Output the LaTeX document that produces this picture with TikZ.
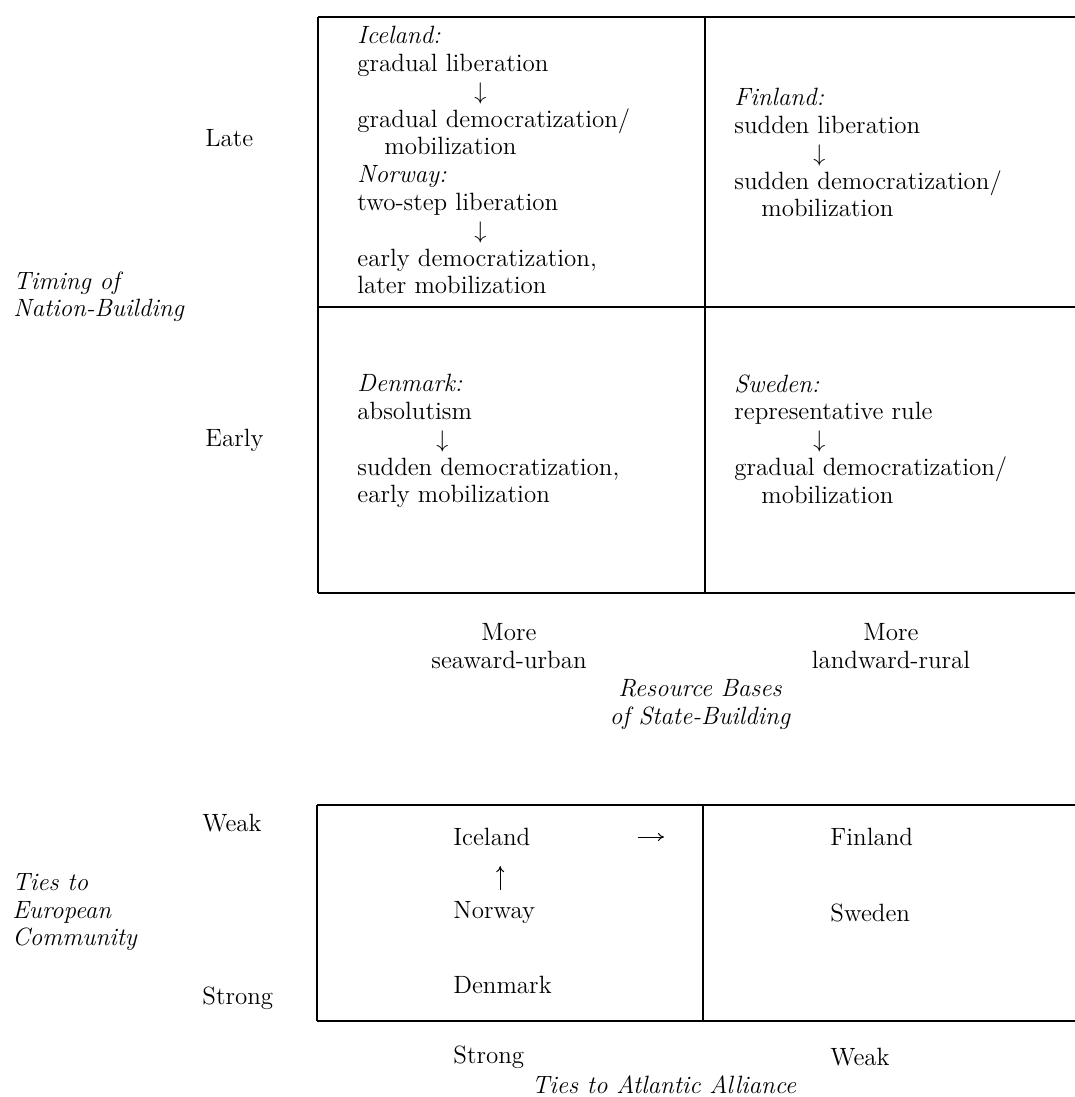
\documentclass[tikz,border=0pt]{standalone}
\usepackage{tikz}
\usetikzlibrary{arrows.meta,positioning}

\newcommand{\stepdown}[1]{\hspace*{#1}$\downarrow$}

\begin{document}
\begin{tikzpicture}[
    x=0.5pt,y=-0.5pt,
    txt/.style={inner sep=0pt,font=\fontsize{12.5}{13.9}\selectfont},
    cell/.style={txt,align=left,anchor=north west},
    axis/.style={inner sep=0pt,font=\fontsize{12.5}{13.9}\selectfont\itshape},
    grid/.style={line width=1pt},
    rim/.style={line width=1.4pt},
    tie/.style={line width=0.5pt,-{To[length=3pt,width=4pt]}}
  ]
  \useasboundingbox (0,0) rectangle (1075,1097);

  % upper table
  \draw[rim] (318,17) -- (1075,17);
  \draw[rim] (318,593) -- (1075,593);
  \draw[grid] (318,17) -- (318,593);
  \draw[grid] (705,17) -- (705,593);
  \draw[grid] (318,307) -- (1075,307);

  \node[cell] (iceCase) at (357,26) {\textit{Iceland:}\\gradual liberation\\
    \stepdown{58.5pt}\\gradual democratization/\\\hspace*{13.5pt}mobilization\\
    \textit{Norway:}\\two-step liberation\\\stepdown{58.5pt}\\
    early democratization,\\later mobilization};
  \node[cell] (finCase) at (734,88) {\textit{Finland:}\\sudden liberation\\
    \stepdown{39.5pt}\\sudden democratization/\\\hspace*{13.5pt}mobilization};
  \node[cell] (denCase) at (357,374) {\textit{Denmark:}\\absolutism\\
    \stepdown{39.5pt}\\sudden democratization,\\early mobilization};
  \node[cell] (sweCase) at (734,374) {\textit{Sweden:}\\representative rule\\
    \stepdown{39.5pt}\\gradual democratization/\\\hspace*{13.5pt}mobilization};

  \node[txt,anchor=west] (late)  at (205,138) {Late};
  \node[txt,anchor=west] (early) at (205,440) {Early};
  \node[axis,align=left,anchor=north west] (timing) at (13,271)
    {Timing of\\Nation-Building};

  \node[txt,align=center,anchor=north] (seaward)  at (509,623) {More\\seaward-urban};
  \node[txt,align=center,anchor=north] (landward) at (891,623) {More\\landward-rural};
  \node[axis,align=center,anchor=north] (resource) at (700,679)
    {Resource Bases\\of State-Building};

  % lower table
  \draw[rim] (317,805) -- (1075,805);
  \draw[rim] (317,1021) -- (1075,1021);
  \draw[grid] (317,805) -- (317,1021);
  \draw[grid] (703,805) -- (703,1021);

  \node[txt,anchor=west] (ice) at (453,837) {Iceland};
  \node[txt,anchor=west] (nor) at (453,913) {Norway};
  \node[txt,anchor=west] (den) at (453,985) {Denmark};
  \node[txt,anchor=west] (fin) at (830,837) {Finland};
  \node[txt,anchor=west] (swe) at (830,913) {Sweden};
  \draw[tie,shorten <=53.5pt,shorten >=83pt] (ice.east) -- (fin.west);
  \draw[tie,shorten <=6pt,shorten >=10pt]
    ([xshift=3pt]nor.north) -- ([xshift=3pt]nor.north |- ice.south);

  \node[txt,anchor=west] (weakEC)   at (202,823) {Weak};
  \node[txt,anchor=west] (strongEC) at (202,998) {Strong};
  \node[axis,align=left,anchor=north west] (europe) at (12,873)
    {Ties to\\European\\Community};

  \node[txt,anchor=west] (strongAA) at (453,1057) {Strong};
  \node[txt,anchor=west] (weakAA)   at (830,1057) {Weak};
  \node[axis,anchor=center] (atlantic) at (664,1085) {Ties to Atlantic Alliance};
\end{tikzpicture}
\end{document}
